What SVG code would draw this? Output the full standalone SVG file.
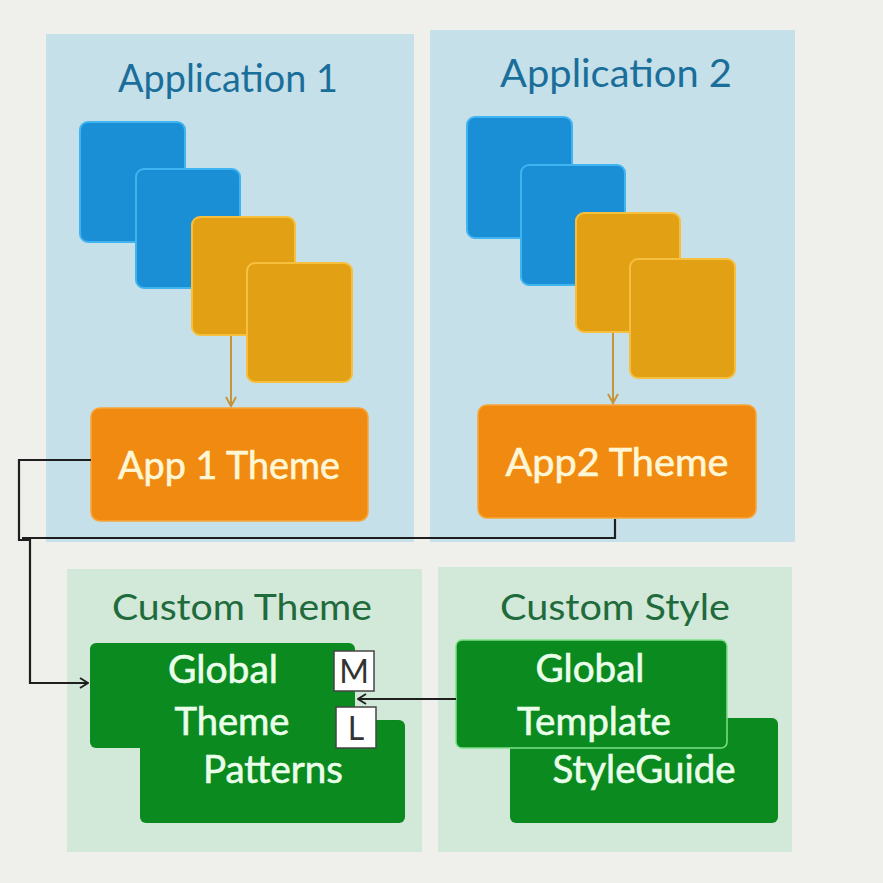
<svg xmlns="http://www.w3.org/2000/svg" width="883" height="883" viewBox="0 0 883 883">
<defs>
<style>
text{font-family:Lato,"Open Sans","DejaVu Sans",sans-serif;text-anchor:middle}
.bg{fill:#efefec}
.apanel{fill:#c6e0ea}
.cpanel{fill:#d2e8d8}
.blue{fill:#1b8fd6;stroke:#3fb4f0;stroke-width:2}
.gold{fill:#e2a115;stroke:#f6c03e;stroke-width:2}
.theme{fill:#f08a10;stroke:#f7a53a;stroke-width:1.5}
.green{fill:#0b8a1f}
.green2{fill:#0b8a1f;stroke:#7fe08a;stroke-width:1.5}
.ttl{fill:#1a6f9a;font-size:39px}
.ctl{fill:#1f6b3c;font-size:36px}
.thm{fill:#fff6d6;stroke:#fff6d6;stroke-width:0.6;font-size:38px}
.gtx{fill:#eaffea;stroke:#eaffea;stroke-width:0.6;font-size:38px}
.tag{fill:#ffffff;stroke:#444;stroke-width:1.5}
.tagt{fill:#333;font-size:32px}
.con{fill:none;stroke:#1e1e1e;stroke-width:2.2}
.inner{fill:none;stroke:#c4953a;stroke-width:2}
</style>
<marker id="ah" viewBox="0 0 10 12" refX="9" refY="6" markerWidth="10" markerHeight="12" markerUnits="userSpaceOnUse" orient="auto">
<path d="M1,1 L9,6 L1,11" fill="none" stroke="#1e1e1e" stroke-width="1.8"/>
</marker>
<marker id="ahg" viewBox="0 0 12 12" refX="10" refY="6" markerWidth="12" markerHeight="12" markerUnits="userSpaceOnUse" orient="auto">
<path d="M1,1 L10,6 L1,11" fill="none" stroke="#c4953a" stroke-width="2"/>
</marker>
</defs>
<rect class="bg" x="0" y="0" width="883" height="883"/>

<g id="application1">
<rect class="apanel" x="46" y="34" width="368" height="508"/>
<text class="ttl" x="228" y="92" textLength="220" lengthAdjust="spacingAndGlyphs">Application 1</text>
<rect class="blue" x="80" y="122" width="105" height="120" rx="8"/>
<rect class="blue" x="136" y="169" width="104" height="119" rx="8"/>
<rect class="gold" x="192" y="217" width="103" height="118" rx="8"/>
<rect class="gold" x="247" y="263" width="105" height="119" rx="8"/>
</g>

<g id="application2">
<rect class="apanel" x="430" y="30" width="365" height="512"/>
<text class="ttl" x="616" y="87" textLength="232" lengthAdjust="spacingAndGlyphs">Application 2</text>
<rect class="blue" x="467" y="117" width="105" height="121" rx="8"/>
<rect class="blue" x="521" y="165" width="104" height="120" rx="8"/>
<rect class="gold" x="576" y="213" width="104" height="119" rx="8"/>
<rect class="gold" x="630" y="259" width="105" height="119" rx="8"/>
</g>

<g id="app1-theme">
<rect class="theme" x="91" y="408" width="277" height="113" rx="9"/>
<text class="thm" x="229" y="479" textLength="222" lengthAdjust="spacingAndGlyphs">App 1 Theme</text>
</g>

<g id="app2-theme">
<rect class="theme" x="478" y="405" width="278" height="113" rx="9"/>
<text class="thm" x="617" y="476" textLength="223" lengthAdjust="spacingAndGlyphs">App2 Theme</text>
</g>

<g id="custom-theme">
<rect class="cpanel" x="67" y="569" width="355" height="283"/>
<text class="ctl" x="242" y="620" textLength="260" lengthAdjust="spacingAndGlyphs">Custom Theme</text>
</g>

<g id="patterns">
<rect class="green" x="140" y="720" width="265" height="103" rx="6"/>
<text class="gtx" x="273" y="783" textLength="140" lengthAdjust="spacingAndGlyphs">Patterns</text>
</g>

<g id="global-theme">
<rect class="green" x="90" y="643" width="265" height="105" rx="6"/>
<text class="gtx" x="223" y="683" textLength="110" lengthAdjust="spacingAndGlyphs">Global</text>
<text class="gtx" x="232" y="735" textLength="115" lengthAdjust="spacingAndGlyphs">Theme</text>
<rect class="tag" x="334" y="651" width="40" height="40"/>
<text class="tagt" x="354" y="683">M</text>
<rect class="tag" x="336" y="707" width="40" height="41"/>
<text class="tagt" x="356" y="740">L</text>
</g>

<g id="custom-style">
<rect class="cpanel" x="438" y="567" width="354" height="285"/>
<text class="ctl" x="615" y="620" textLength="230" lengthAdjust="spacingAndGlyphs">Custom Style</text>
</g>

<g id="styleguide">
<rect class="green" x="510" y="718" width="268" height="105" rx="6"/>
<text class="gtx" x="644" y="783" textLength="183" lengthAdjust="spacingAndGlyphs">StyleGuide</text>
</g>

<g id="global-template">
<rect class="green2" x="456" y="640" width="271" height="108" rx="6"/>
<text class="gtx" x="590" y="682" textLength="109" lengthAdjust="spacingAndGlyphs">Global</text>
<text class="gtx" x="594" y="735" textLength="154" lengthAdjust="spacingAndGlyphs">Template</text>
</g>

<g id="connectors">
<path class="inner" d="M231,336 V406" marker-end="url(#ahg)"/>
<path class="inner" d="M613,333 V403" marker-end="url(#ahg)"/>
<path class="con" d="M91,460 H19 V540 L30,540 V683 H88" marker-end="url(#ah)"/>
<path class="con" d="M615,519 V538 H22"/>
<path class="con" d="M456,699 H358" marker-end="url(#ah)"/>
</g>
</svg>
